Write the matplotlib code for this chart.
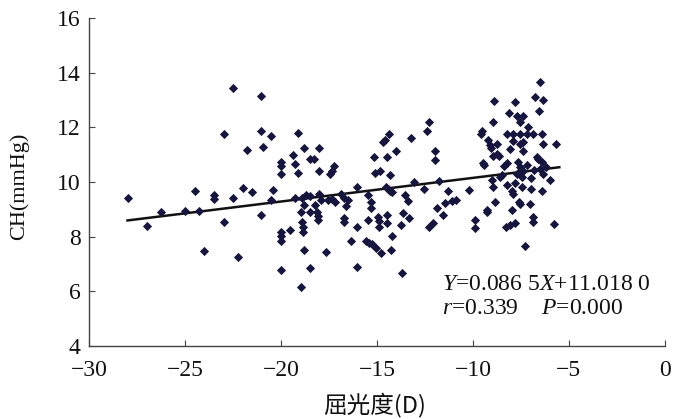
import matplotlib
matplotlib.use("Agg")
import matplotlib.pyplot as plt
import numpy as np

# Refraction (D) and CH (mmHg) values
refraction = [
    -27.98, -26.98, -26.24, -25.0, -24.47, -24.25, -24.0, -23.48, -23.48, -22.99,
    -22.99, -22.5, -22.5, -22.25, -22.0, -21.76, -21.49, -21.04, -21.04, -20.93,
    -21.02, -20.5, -20.44, -20.5, -19.99, -19.99, -20.0, -20.0, -20.0, -20.0,
    -20.0, -19.52, -19.36, -19.25, -19.14, -19.14, -19.25, -18.98, -18.98, -18.92,
    -18.92, -18.87, -18.85, -18.8, -18.8, -18.8, -18.7, -18.5, -18.3, -18.5,
    -18.5, -18.47, -18.24, -18.13, -18.07, -18.07, -18.02, -18.02, -18.02, -17.9,
    -17.64, -17.57, -17.46, -17.35, -17.24, -17.35, -17.19, -16.9, -16.74, -16.74,
    -16.61, -16.74, -16.5, -16.34, -16.03, -16.03, -16.03, -15.45, -15.31, -15.29,
    -15.45, -15.56, -15.4, -15.27, -15.15, -15.11, -15.04, -14.95, -14.91, -14.89,
    -14.82, -14.77, -14.68, -14.59, -14.55, -14.5, -14.5, -14.46, -14.44, -14.37,
    -14.3, -14.33, -14.26, -14.21, -14.21, -14.0, -13.77, -13.72, -13.65, -13.54,
    -13.39, -13.32, -13.25, -13.05, -12.53, -12.42, -12.31, -12.27, -12.09, -11.98,
    -11.98, -11.86, -11.75, -11.57, -11.48, -11.3, -11.08, -10.86, -10.18, -9.87,
    -9.87, -9.4, -9.29, -8.28, -8.06, -7.83, -7.27, -6.87, -5.77, -6.49,
    # dense cluster near -9 .. -5.5 D
    -8.91, -7.81, -6.77, -6.34, -6.55, -8.11, -7.73, -7.38, -7.55, -8.97,
    -9.55, -7.12, -8.25, -7.9, -7.55, -7.2, -6.86, -6.42, -9.2, -8.77,
    -9.12, -7.9, -7.55, -7.38, -8.07, -7.38, -6.34, -5.65, -8.94, -8.77,
    -9.46, -8.25, -7.64, -7.55, -7.38, -7.73, -7.47, -7.2, -6.68, -6.42,
    -6.51, -6.34, -6.0, -9.03, -8.94, -8.25, -7.99, -7.9, -7.47, -6.95,
    -6.42, -8.85, -9.29, -7.99, -7.55, -7.03, -6.86, -9.56, -9.06, -8.62,
    -8.39, -7.61, -7.61, -6.8, -6.2, -8.5, -7.0, -6.6, -7.8, -8.6,
]
ch = [
    9.42, 8.41, 8.89, 8.94, 9.66, 8.94, 7.49, 9.52, 9.37, 11.77,
    8.53, 13.43, 9.40, 7.25, 9.80, 11.18, 9.63, 13.13, 11.86, 11.29,
    8.78, 11.70, 9.71, 9.36, 10.72, 10.60, 10.31, 8.17, 8.01, 7.86,
    6.77, 8.25, 10.99, 10.67, 11.78, 10.33, 9.43, 6.17, 8.89, 9.40,
    8.55, 8.37, 8.19, 7.53, 11.24, 9.16, 9.52, 10.84, 10.84, 9.49,
    6.87, 8.92, 9.16, 8.92, 8.77, 8.61, 11.24, 10.39, 9.55, 9.34,
    7.43, 9.35, 10.30, 10.39, 10.60, 9.37, 9.28, 9.58, 9.40, 8.55,
    9.13, 8.67, 9.36, 7.83, 8.36, 9.82, 6.90, 9.52, 9.28, 9.04,
    8.61, 7.83, 7.76, 7.73, 10.90, 10.34, 7.59, 8.73, 8.58, 8.37,
    10.42, 7.41, 11.45, 11.53, 9.82, 10.90, 8.80, 8.49, 9.76, 11.75,
    10.24, 9.66, 7.53, 8.01, 9.64, 11.12, 8.43, 6.69, 8.86, 9.52,
    9.30, 8.67, 11.61, 10.0, 9.73, 11.87, 12.20, 8.37, 8.49, 11.14,
    10.82, 9.06, 10.04, 8.80, 9.22, 9.66, 9.30, 9.36, 9.70, 8.61,
    8.31, 10.64, 8.92, 8.37, 8.43, 8.49, 7.65, 8.55, 8.46, 13.65,
    12.95, 12.92, 13.1, 13.0, 12.61, 12.51, 12.43, 12.43, 12.19, 12.19,
    11.86, 12.0, 11.74, 11.74, 11.74, 11.74, 11.74, 11.74, 11.52, 11.4,
    11.34, 11.49, 11.40, 11.46, 11.21, 11.15, 11.40, 11.40, 10.97, 11.03,
    10.69, 10.69, 10.73, 10.54, 10.42, 10.30, 10.18, 10.61, 10.91, 10.73,
    10.49, 10.30, 10.08, 10.06, 9.81, 9.88, 9.69, 9.57, 9.81, 9.76,
    9.69, 9.27, 8.96, 8.96, 9.21, 9.21, 8.72, 11.77, 11.23, 10.96,
    10.60, 10.36, 9.28, 10.45, 10.55, 10.24, 10.15, 10.85, 9.95, 10.20,
]

slope = 0.0865
intercept = 11.0180
fit_range = [-28.0, -5.5]
xticks = [-30, -25, -20, -15, -10, -5, 0]
yticks = [4, 6, 8, 10, 12, 14, 16]

plt.rcParams['font.family'] = ['Liberation Serif', 'Noto Sans CJK SC']
plt.rcParams['mathtext.fontset'] = 'custom'
plt.rcParams['mathtext.rm'] = 'Liberation Serif'
plt.rcParams['mathtext.it'] = 'Liberation Serif:italic'

fig = plt.figure(figsize=(6.75, 4.19), dpi=100)
ax = fig.add_axes([0.132, 0.174, 0.853, 0.783])

ax.scatter(refraction, ch, marker='D', s=22, color='#15153d', linewidths=0, zorder=3)
fx = np.array(fit_range)
ax.plot(fx, slope * fx + intercept, color='#111111', lw=1.8, zorder=2)

ax.set_xlim(-30, 0)
ax.set_ylim(4, 16)
ax.set_xticks(xticks)
ax.set_yticks(yticks)
ax.set_xticklabels(['\u221230', '\u221225', '\u221220', '\u221215', '\u221210', '\u22125', '0'])
for s in ['top', 'right']:
    ax.spines[s].set_visible(False)
for s in ['left', 'bottom']:
    ax.spines[s].set_color('#444444')
    ax.spines[s].set_linewidth(1.0)
ax.tick_params(axis='both', direction='in', length=4, width=0.8, color='#444444',
               labelsize=17, labelcolor='#111111')
ax.tick_params(axis='x', pad=10)
ax.tick_params(axis='y', pad=6)

fig.text(0.028, 1 - 186 / 419, 'CH(mmHg)', fontsize=16, color='#111111',
         rotation=90, ha='center', va='center')
fig.text(375 / 675, 1 - 405 / 419, '屈光度(D)', fontsize=17, color='#111111',
         ha='center', va='center', family=['Noto Sans CJK SC', 'Liberation Serif'])

ax.text(-11.6, 6.26, r'$\mathit{Y}$=0.086 5$\mathit{X}$+11.018 0', fontsize=17,
        ha='left', va='center', color='#111111')
ax.text(-11.6, 5.39, r'$\mathit{r}$=0.339    $\mathit{P}$=0.000', fontsize=17,
        ha='left', va='center', color='#111111')

fig.savefig('out.png', dpi=100)
